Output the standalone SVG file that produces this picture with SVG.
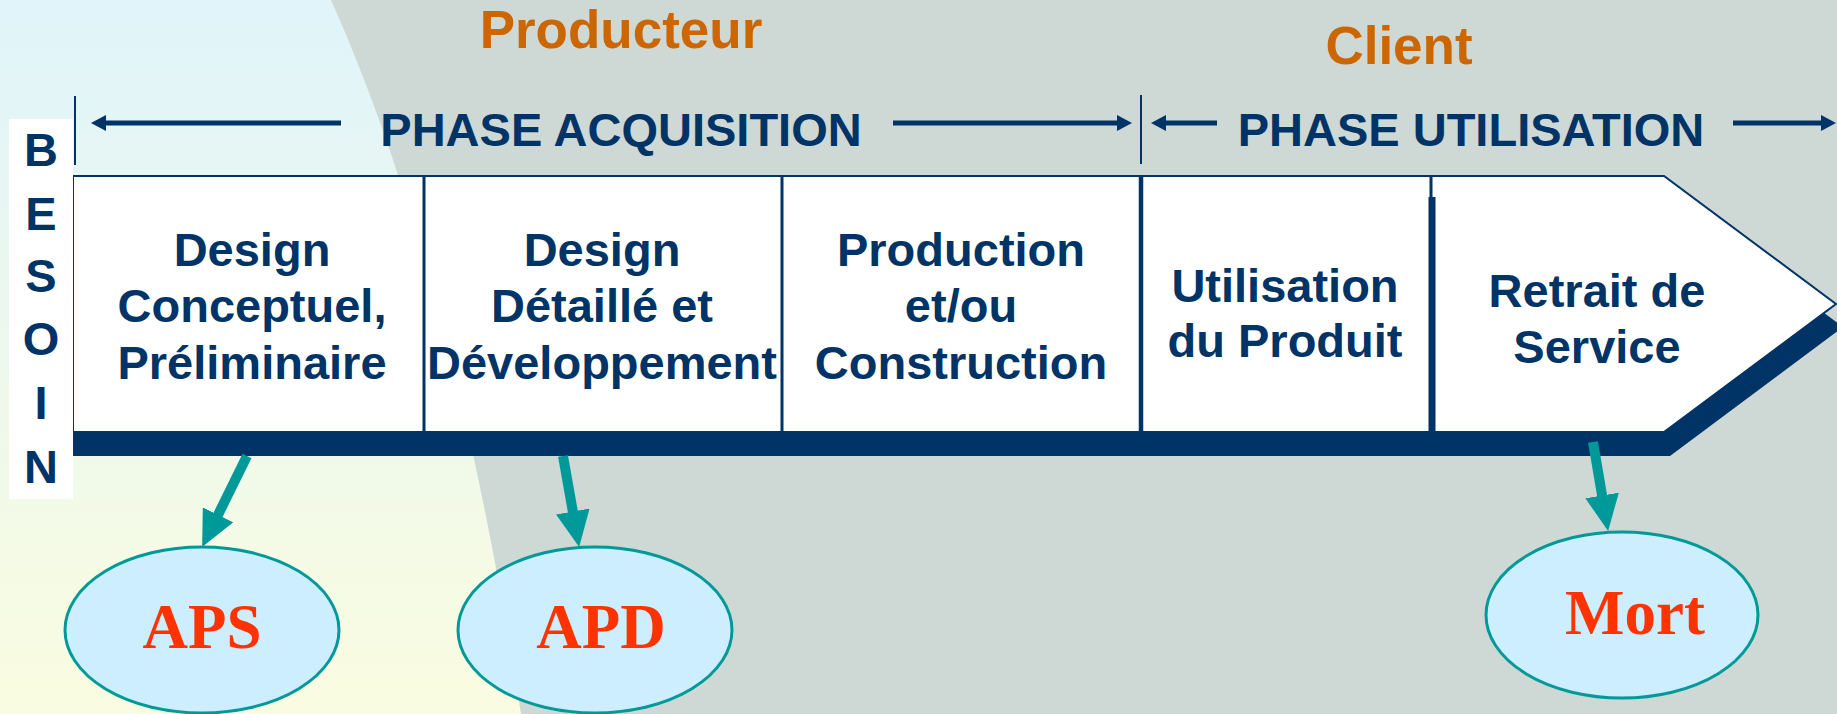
<svg xmlns="http://www.w3.org/2000/svg" width="1837" height="714" viewBox="0 0 1837 714">
<defs>
<linearGradient id="bg" x1="0" y1="0" x2="0" y2="1">
<stop offset="0" stop-color="#E0F4FA"/>
<stop offset="1" stop-color="#FAFCE0"/>
</linearGradient>
<marker id="navyHead" markerUnits="userSpaceOnUse" viewBox="0 0 15 16" markerWidth="15" markerHeight="16" refX="3" refY="8" orient="auto">
<path d="M0,0 L15,8 L0,16 z" fill="#003366"/>
</marker>
<marker id="tealHead" markerUnits="userSpaceOnUse" viewBox="0 0 36 34" markerWidth="36" markerHeight="34" refX="6" refY="17" orient="auto">
<path d="M0,0 L36,17 L0,34 z" fill="#009999"/>
</marker>
</defs>
<style>
.lbl{font-family:"Liberation Sans",Arial,sans-serif;font-weight:bold;fill:#003366;font-size:47px;text-anchor:middle}
.hdr{font-family:"Liberation Sans",Arial,sans-serif;font-weight:bold;fill:#003366;font-size:47px;text-anchor:middle}
.who{font-family:"Liberation Sans",Arial,sans-serif;font-weight:bold;fill:#CC6600;font-size:53px;text-anchor:middle}
.bes{font-family:"Liberation Sans",Arial,sans-serif;font-weight:bold;fill:#003366;font-size:47px;text-anchor:middle}
.ov{font-family:"Liberation Serif","Times New Roman",serif;font-weight:bold;fill:#FF3300;font-size:63px;text-anchor:middle}
.ell{fill:#CCEEFF;stroke:#009999;stroke-width:3}
.div{stroke:#003366;stroke-width:3}
.tick{stroke:#003366;stroke-width:2}
.narr{stroke:#003366;stroke-width:5;fill:none;marker-end:url(#navyHead)}
.tarr{stroke:#009999;stroke-width:10;fill:none;marker-end:url(#tealHead)}
</style>
<g id="background">
<rect x="0" y="0" width="1837" height="714" fill="url(#bg)"/>
<path d="M331,0 Q452,270 521,714 L1837,714 L1837,0 Z" fill="#CED8D5"/>
</g>
<g id="arrow-band">
<polygon points="73,199 1670,199 1843,327 1670,456 73,456" fill="#003366"/>
<polygon points="73,176 1664,176 1836,304 1664,432 73,432" fill="#FFFFFF" stroke="#003366" stroke-width="2"/>
<line class="div" x1="424" y1="176" x2="424" y2="432"/>
<line class="div" x1="782" y1="176" x2="782" y2="432"/>
<line class="div" x1="1141" y1="176" x2="1141" y2="432" style="stroke-width:4.5"/>
<line class="div" x1="1431" y1="176" x2="1431" y2="198"/>
<line class="div" x1="1432" y1="197" x2="1432" y2="432" style="stroke-width:7"/>
</g>
<g id="besoin">
<rect x="9" y="119" width="64" height="380" fill="#FFFFFF"/>
<text class="bes" x="41" y="166">B</text>
<text class="bes" x="41" y="230">E</text>
<text class="bes" x="41" y="292">S</text>
<text class="bes" x="41" y="355">O</text>
<text class="bes" x="41" y="419">I</text>
<text class="bes" x="41" y="483">N</text>
</g>
<g id="producteur"><text class="who" x="621" y="48">Producteur</text></g>
<g id="client"><text class="who" x="1399" y="64">Client</text></g>
<g id="phase-acquisition"><text class="hdr" x="621" y="146">PHASE ACQUISITION</text></g>
<g id="phase-utilisation"><text class="hdr" x="1471" y="146">PHASE UTILISATION</text></g>
<g id="box-design-conceptuel">
<text class="lbl" x="252" y="266">Design</text>
<text class="lbl" x="252" y="322">Conceptuel,</text>
<text class="lbl" x="252" y="379">Préliminaire</text>
</g>
<g id="box-design-detaille">
<text class="lbl" x="602" y="266">Design</text>
<text class="lbl" x="602" y="322">Détaillé et</text>
<text class="lbl" x="602" y="379">Développement</text>
</g>
<g id="box-production">
<text class="lbl" x="961" y="266">Production</text>
<text class="lbl" x="961" y="322">et/ou</text>
<text class="lbl" x="961" y="379">Construction</text>
</g>
<g id="box-utilisation">
<text class="lbl" x="1285" y="302">Utilisation</text>
<text class="lbl" x="1285" y="357">du Produit</text>
</g>
<g id="box-retrait">
<text class="lbl" x="1597" y="307">Retrait de</text>
<text class="lbl" x="1597" y="363">Service</text>
</g>
<g id="node-aps">
<ellipse class="ell" cx="202" cy="630" rx="137" ry="83"/>
<text class="ov" x="202" y="648">APS</text>
</g>
<g id="node-apd">
<ellipse class="ell" cx="595" cy="630" rx="137" ry="83"/>
<text class="ov" x="601" y="648">APD</text>
</g>
<g id="node-mort">
<ellipse class="ell" cx="1622" cy="615" rx="136" ry="83"/>
<text class="ov" x="1635" y="634">Mort</text>
</g>
<g id="connectors">
<line class="tick" x1="75" y1="96" x2="75" y2="165"/>
<line class="tick" x1="1141" y1="95" x2="1141" y2="164"/>
<line class="narr" x1="341" y1="123" x2="103" y2="123"/>
<line class="narr" x1="893" y1="123" x2="1120" y2="123"/>
<line class="narr" x1="1217" y1="123" x2="1163" y2="123"/>
<line class="narr" x1="1733" y1="123" x2="1824" y2="123"/>
<line class="tarr" x1="247" y1="456" x2="215.4" y2="520.2"/>
<line class="tarr" x1="563" y1="456" x2="573.9" y2="517.4"/>
<line class="tarr" x1="1593" y1="442" x2="1603.1" y2="501.4"/>
</g>
</svg>
